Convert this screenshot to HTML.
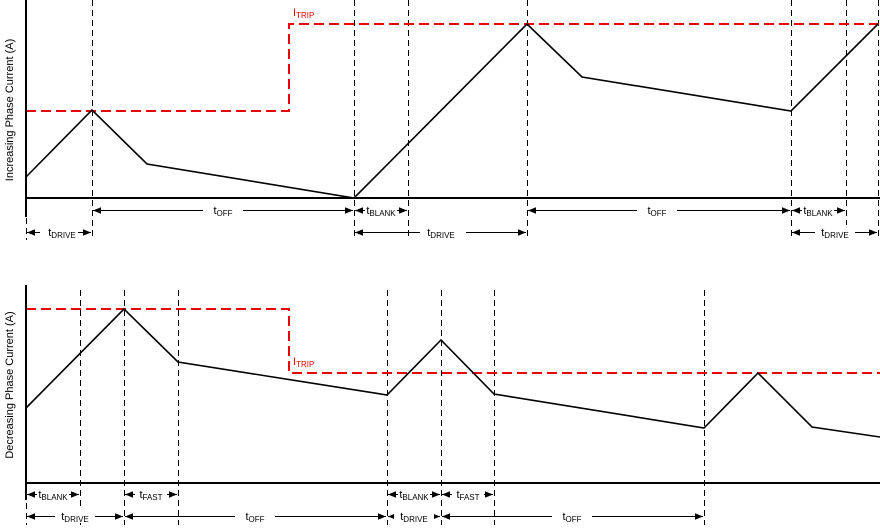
<!DOCTYPE html>
<html><head><meta charset="utf-8"><style>
html,body{margin:0;padding:0;background:#fff}
svg{display:block;font-family:"Liberation Sans",Arial,sans-serif}
</style></head><body>
<svg width="880" height="528" viewBox="0 0 880 528" xmlns="http://www.w3.org/2000/svg">
<defs>
<marker id="a" viewBox="0 0 10 10" refX="10" refY="5" markerWidth="8" markerHeight="8" orient="auto-start-reverse" markerUnits="userSpaceOnUse"><path d="M0,1 L10,5 L0,9 z" fill="#000"/></marker>
</defs>
<g stroke="#000" stroke-width="1" stroke-dasharray="6,4" fill="none" transform="translate(0.5,0)">
<path d="M92,0V240M354,0V240M408,0V240M527,0V240M791,0V240M846,0V240M878,0V240M26,198V240"/>
<path d="M80,290V525M124,290V525M178,290V525M387,290V525M441,290V525M494,290V525M704,290V525M26,483V525"/>
</g>
<g stroke="#e00" stroke-width="2" stroke-dasharray="10,5" fill="none">
<path d="M26,111H289V24H880"/>
<path d="M26,309H289V373H880"/>
</g>
<g stroke="#000" stroke-width="2" fill="none">
<path d="M26,0V217M26,198H880"/>
<path d="M26,285V500M26,483H880"/>
<path d="M26,177L92,110L147,164L354,198L527,24L582,77L791,111L878,24" stroke-width="1.6"/>
<path d="M26,408L124,309L178,362L387,395L441,340L494,394L704,428L758,373L812,427L880,437" stroke-width="1.6"/>
</g>
<g stroke="#000" stroke-width="1" marker-start="url(#a)" marker-end="url(#a)" transform="translate(0,0.5)">
<line x1="93" y1="210" x2="353" y2="210"/>
<line x1="355" y1="210" x2="407" y2="210"/>
<line x1="528" y1="210" x2="790" y2="210"/>
<line x1="792" y1="210" x2="845" y2="210"/>
<line x1="27" y1="232" x2="91" y2="232"/>
<line x1="355" y1="232" x2="526" y2="232"/>
<line x1="792" y1="232" x2="877" y2="232"/>
<line x1="27" y1="494" x2="79" y2="494"/>
<line x1="125" y1="494" x2="177" y2="494"/>
<line x1="388" y1="494" x2="440" y2="494"/>
<line x1="442" y1="494" x2="493" y2="494"/>
<line x1="27" y1="516" x2="123" y2="516"/>
<line x1="125" y1="516" x2="386" y2="516"/>
<line x1="388" y1="516" x2="440" y2="516"/>
<line x1="442" y1="516" x2="703" y2="516"/>
</g>
<g font-size="11" text-anchor="middle">
<g fill="#fff"><rect x="203" y="203" width="40" height="14"/><rect x="365" y="203" width="32" height="14"/><rect x="637" y="203" width="40" height="14"/><rect x="802" y="203" width="32" height="14"/>
<rect x="40" y="225" width="38" height="14"/><rect x="420" y="225" width="46" height="14"/><rect x="815" y="225" width="40" height="14"/>
<rect x="37" y="487" width="32" height="14"/><rect x="135" y="487" width="32" height="14"/><rect x="398" y="487" width="32" height="14"/><rect x="452" y="487" width="32" height="14"/>
<rect x="55" y="509" width="40" height="14"/><rect x="235" y="509" width="40" height="14"/><rect x="394" y="509" width="40" height="14"/><rect x="552" y="509" width="40" height="14"/></g>
<text x="223" y="214">t<tspan font-size="8" dy="2">OFF</tspan></text>
<text x="381" y="214">t<tspan font-size="8" dy="2">BLANK</tspan></text>
<text x="657" y="214">t<tspan font-size="8" dy="2">OFF</tspan></text>
<text x="818" y="214">t<tspan font-size="8" dy="2">BLANK</tspan></text>
<text x="62" y="236">t<tspan font-size="8" dy="2">DRIVE</tspan></text>
<text x="441" y="236">t<tspan font-size="8" dy="2">DRIVE</tspan></text>
<text x="835" y="236">t<tspan font-size="8" dy="2">DRIVE</tspan></text>
<text x="53" y="498">t<tspan font-size="8" dy="2">BLANK</tspan></text>
<text x="151" y="498">t<tspan font-size="8" dy="2">FAST</tspan></text>
<text x="414" y="498">t<tspan font-size="8" dy="2">BLANK</tspan></text>
<text x="468" y="498">t<tspan font-size="8" dy="2">FAST</tspan></text>
<text x="75" y="520">t<tspan font-size="8" dy="2">DRIVE</tspan></text>
<text x="255" y="520">t<tspan font-size="8" dy="2">OFF</tspan></text>
<text x="414" y="520">t<tspan font-size="8" dy="2">DRIVE</tspan></text>
<text x="572" y="520">t<tspan font-size="8" dy="2">OFF</tspan></text>
</g>
<g fill="#e00" font-size="11">
<text x="293" y="16">I<tspan font-size="8" dy="2">TRIP</tspan></text>
<text x="293" y="365">I<tspan font-size="8" dy="2">TRIP</tspan></text>
</g>
<g font-size="11" text-anchor="middle">
<text transform="translate(13,110) rotate(-90)">Increasing Phase Current (A)</text>
<text transform="translate(13,385) rotate(-90)">Decreasing Phase Current (A)</text>
</g>
</svg>
</body></html>
